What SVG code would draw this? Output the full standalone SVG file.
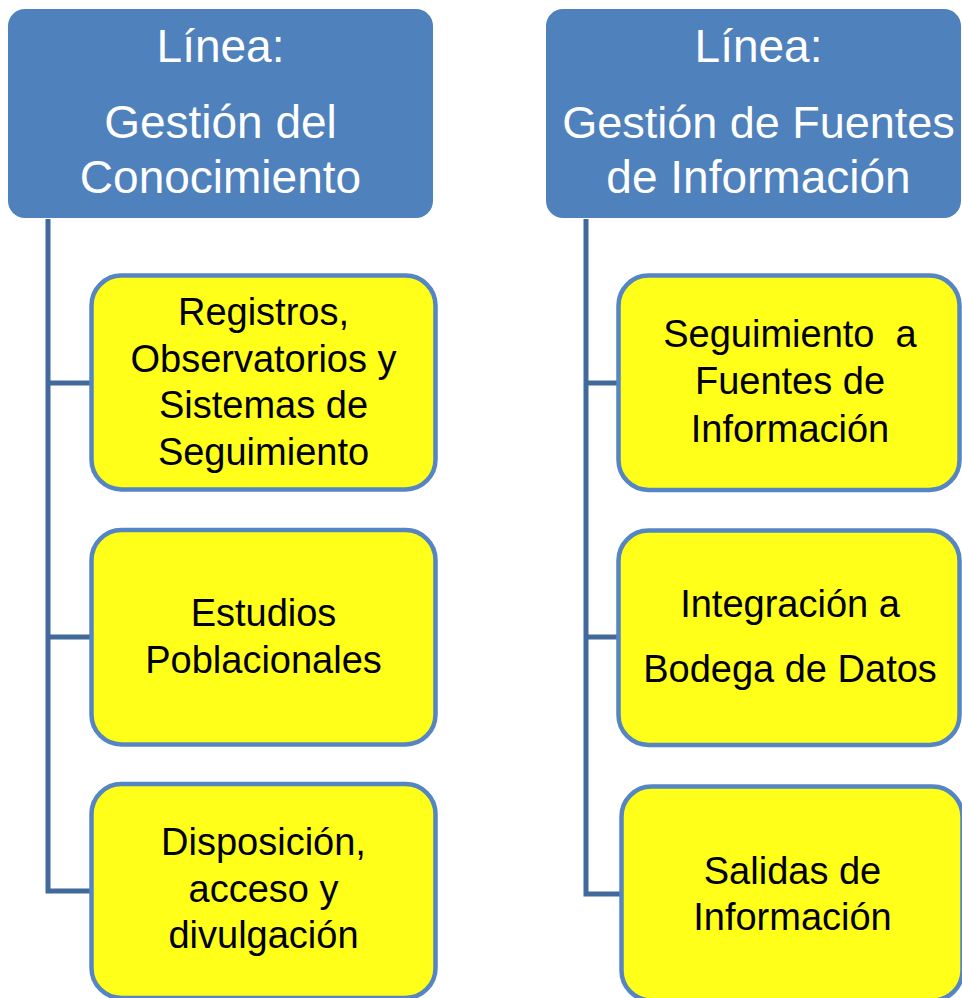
<svg xmlns="http://www.w3.org/2000/svg" width="962" height="998" viewBox="0 0 962 998">
<style>
.hdr{fill:#4f81bd}
.ht{font-family:"Liberation Sans",Arial,sans-serif;font-size:46px;fill:#ffffff;text-anchor:middle}
.box{fill:#ffff19;stroke:#5585c2;stroke-width:4.5}
.bt{font-family:"Liberation Sans",Arial,sans-serif;font-size:38px;fill:#000000;text-anchor:middle}
.con{fill:none;stroke:#41699c;stroke-width:5;stroke-linejoin:miter;stroke-linecap:butt}
</style>
<rect width="962" height="998" fill="#ffffff"/>
<g id="connectors">
<polyline class="con" points="48,219 48,891 91,891"/>
<line class="con" x1="48" y1="383" x2="91" y2="383"/>
<line class="con" x1="48" y1="637" x2="91" y2="637"/>
<polyline class="con" points="586,219 586,894 620,894"/>
<line class="con" x1="586" y1="383" x2="618" y2="383"/>
<line class="con" x1="586" y1="637" x2="618" y2="637"/>
</g>
<g id="header-left">
<rect class="hdr" x="8" y="9" width="425" height="209" rx="17"/>
<text class="ht" x="220.5" y="62">Línea:</text>
<text class="ht" x="220.5" y="138">Gestión del</text>
<text class="ht" x="220.5" y="193">Conocimiento</text>
</g>
<g id="header-right">
<rect class="hdr" x="546" y="9" width="415" height="209" rx="17"/>
<text class="ht" x="758.5" y="62">Línea:</text>
<text class="ht" x="758.5" y="138" style="font-size:45px">Gestión de Fuentes</text>
<text class="ht" x="758.5" y="193">de Información</text>
</g>
<g id="box-registros">
<rect class="box" x="91.5" y="275.5" width="344" height="214" rx="30"/>
<text class="bt" x="263.5" y="325">Registros,</text>
<text class="bt" x="263.5" y="371.5">Observatorios y</text>
<text class="bt" x="263.5" y="418">Sistemas de</text>
<text class="bt" x="263.5" y="464.5">Seguimiento</text>
</g>
<g id="box-estudios">
<rect class="box" x="91.5" y="530" width="344" height="214.5" rx="30"/>
<text class="bt" x="263.5" y="625.5">Estudios</text>
<text class="bt" x="263.5" y="672.5">Poblacionales</text>
</g>
<g id="box-disposicion">
<rect class="box" x="91.5" y="784" width="344" height="214" rx="30"/>
<text class="bt" x="263.5" y="855">Disposición,</text>
<text class="bt" x="263.5" y="901.5">acceso y</text>
<text class="bt" x="263.5" y="948">divulgación</text>
</g>
<g id="box-seguimiento">
<rect class="box" x="618.5" y="275.5" width="341" height="214.5" rx="30"/>
<text class="bt" x="790" y="347" xml:space="preserve">Seguimiento  a</text>
<text class="bt" x="790" y="394">Fuentes de</text>
<text class="bt" x="790" y="441.5">Información</text>
</g>
<g id="box-integracion">
<rect class="box" x="618.5" y="530.5" width="341" height="214.5" rx="30"/>
<text class="bt" x="790" y="616.5">Integración a</text>
<text class="bt" x="790" y="681.5">Bodega de Datos</text>
</g>
<g id="box-salidas">
<rect class="box" x="621.5" y="786.5" width="341" height="214" rx="30"/>
<text class="bt" x="792.5" y="884">Salidas de</text>
<text class="bt" x="792.5" y="929.5">Información</text>
</g>
</svg>
